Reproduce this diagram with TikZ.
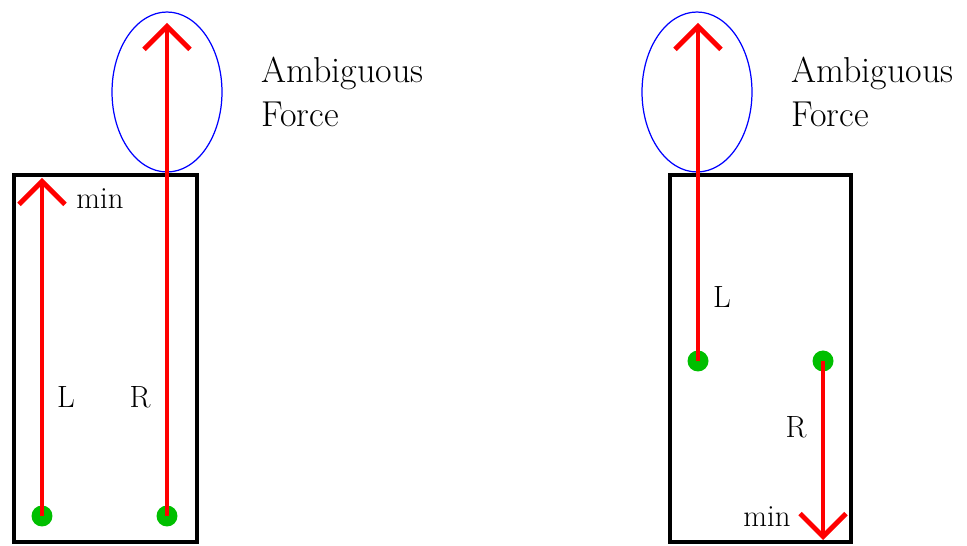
\documentclass[tikz,border=0pt]{standalone}
\usetikzlibrary{positioning,arrows.meta,shapes.geometric}
\tikzset{
  every picture/.style={line width=0.6pt},
  frame/.style={draw,line width=2.8pt},
  force/.style={draw=red,line width=2.8pt,-{Straight Barb[length=4.6mm,width=9.2mm]}},
  pin/.style={circle,fill=green!75!black,minimum size=4.2mm,inner sep=0},
  amb/.style={draw=blue,ellipse,line width=0.7pt,minimum width=22mm,minimum height=32mm,inner sep=0},
  lbl/.style={font=\fontsize{17.5}{20}\selectfont,inner sep=1pt},
  note/.style={font=\fontsize{20.5}{24.5}\selectfont,align=left,anchor=north west,inner sep=0},
}
\begin{document}
\begin{tikzpicture}[x=0.02cm,y=-0.02cm]
\useasboundingbox (0,0) rectangle (967,546);
% --- left case ---
\draw[frame] (14,175) rectangle (197,542);
\node[amb] (ovA) at (167,92) {};
\node[pin] (pLA) at (42,516) {};
\node[pin] (pRA) at (167,516) {};
\coordinate (tLA) at (42,178);
\coordinate (tRA) at (167,23);
\draw[force] (pLA.center) -- (tLA);
\draw[force] (pRA.center) -- (tRA);
\node[lbl] (minA) at (100,199) {min};
\node[lbl] (LA) at (66,397) {L};
\node[lbl] (RA) at (140,397) {R};
\node[note] (txA) at (261,57) {Ambiguous\\Force};
% --- right case ---
\draw[frame] (670,175) rectangle (851,542);
\node[amb] (ovB) at (697,92) {};
\node[pin] (pLB) at (698,361) {};
\node[pin] (pRB) at (823,361) {};
\coordinate (tLB) at (698,23);
\coordinate (tRB) at (823,540);
\draw[force] (pLB.center) -- (tLB);
\draw[force] (pRB.center) -- (tRB);
\node[lbl] (LB) at (722,297) {L};
\node[lbl] (RB) at (796,427) {R};
\node[lbl] (minB) at (767,517) {min};
\node[note] (txB) at (791,57) {Ambiguous\\Force};
\end{tikzpicture}
\end{document}
